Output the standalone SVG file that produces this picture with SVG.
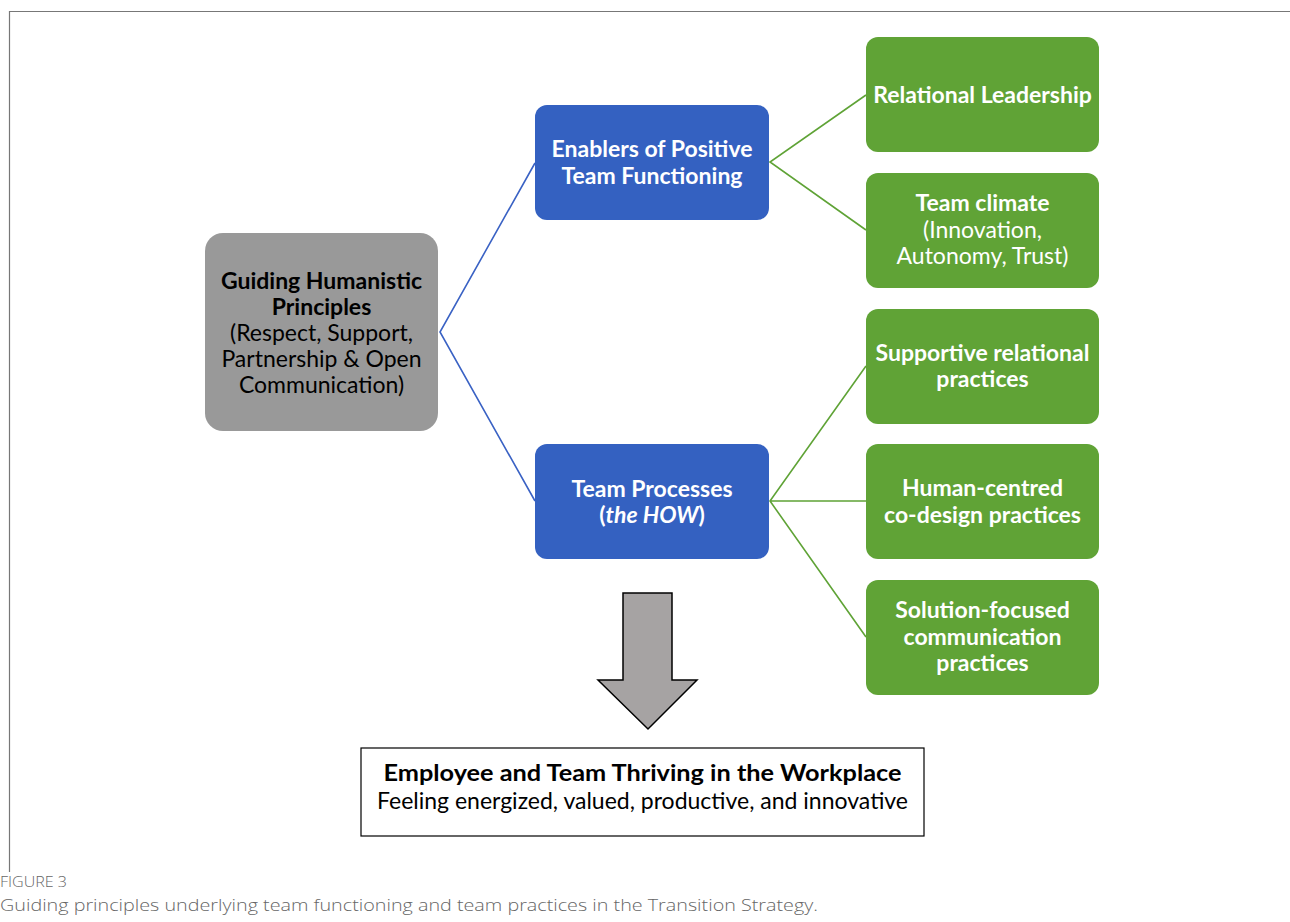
<svg xmlns="http://www.w3.org/2000/svg" width="1290" height="922" viewBox="0 0 1290 922">
<style>
.t{font-family:Lato,"Open Sans","Liberation Sans",sans-serif;font-size:23px;text-anchor:middle}
.b{font-weight:bold}
.w{fill:#ffffff}
.k{fill:#000000}
.blue{fill:#3461c1}
.green{fill:#60a336}
.cb{stroke:#3a62c4;stroke-width:1.6;fill:none}
.cg{stroke:#5fa336;stroke-width:1.6;fill:none}
.cap{font-family:"Open Sans","Liberation Sans",sans-serif;fill:#666666;font-weight:300}
</style>
<rect x="0" y="0" width="1290" height="922" fill="#ffffff"/>
<path d="M9.5 872 V11.5 H1290" fill="none" stroke="#777777" stroke-width="1.2"/>
<g id="connectors">
<path class="cb" d="M535 163 L440 332 L535 501"/>
<path class="cg" d="M866 95 L770 162 L866 230"/>
<path class="cg" d="M866 366 L770 501 L866 637 M770 501 H866"/>
</g>
<g id="guiding">
<rect x="205" y="233" width="233" height="198" rx="18" fill="#999999"/>
<text class="t k" x="321.5" y="289"><tspan class="b">Guiding Humanistic</tspan><tspan class="b" x="321.5" dy="26">Principles</tspan><tspan x="321.5" dy="26">(Respect, Support,</tspan><tspan x="321.5" dy="26">Partnership &amp; Open</tspan><tspan x="321.5" dy="26">Communication)</tspan></text>
</g>
<g id="enablers">
<rect class="blue" x="535" y="105" width="234" height="115" rx="12"/>
<text class="t b w" x="652" y="157">Enablers of Positive<tspan x="652" dy="27">Team Functioning</tspan></text>
</g>
<g id="processes">
<rect class="blue" x="535" y="444" width="234" height="115" rx="12"/>
<text class="t b w" x="652" y="497">Team Processes<tspan x="652" dy="26">(<tspan font-style="italic">the HOW</tspan>)</tspan></text>
</g>
<g id="relational-leadership">
<rect class="green" x="866" y="37" width="233" height="115" rx="12"/>
<text class="t b w" x="982.5" y="103">Relational Leadership</text>
</g>
<g id="team-climate">
<rect class="green" x="866" y="173" width="233" height="115" rx="12"/>
<text class="t w" x="982.5" y="211"><tspan class="b">Team climate</tspan><tspan x="982.5" dy="27">(Innovation,</tspan><tspan x="982.5" dy="26">Autonomy, Trust)</tspan></text>
</g>
<g id="supportive">
<rect class="green" x="866" y="309" width="233" height="115" rx="12"/>
<text class="t b w" x="982.5" y="361">Supportive relational<tspan x="982.5" dy="26">practices</tspan></text>
</g>
<g id="human-centred">
<rect class="green" x="866" y="444" width="233" height="115" rx="12"/>
<text class="t b w" x="982.5" y="496">Human-centred<tspan x="982.5" dy="27">co-design practices</tspan></text>
</g>
<g id="solution-focused">
<rect class="green" x="866" y="580" width="233" height="115" rx="12"/>
<text class="t b w" x="982.5" y="618">Solution-focused<tspan x="982.5" dy="27">communication</tspan><tspan x="982.5" dy="26">practices</tspan></text>
</g>
<g id="arrow">
<path d="M623 593 H672 V680 H697 L648 729 L598 680 H623 Z" fill="#a6a3a3" stroke="#000000" stroke-width="1.5" stroke-linejoin="miter"/>
</g>
<g id="outcome">
<rect x="361" y="748" width="563" height="88" fill="#ffffff" stroke="#000000" stroke-width="1.2"/>
<text class="t b k" x="642.5" y="781" font-size="24" textLength="518" lengthAdjust="spacingAndGlyphs">Employee and Team Thriving in the Workplace</text>
<text class="t k" x="642.5" y="809" font-size="18.5">Feeling energized, valued, productive, and innovative</text>
</g>
<text class="cap" x="0" y="887" font-size="14" textLength="67" lengthAdjust="spacingAndGlyphs">FIGURE 3</text>
<text class="cap" x="0" y="911" font-size="17" textLength="818" lengthAdjust="spacingAndGlyphs">Guiding principles underlying team functioning and team practices in the Transition Strategy.</text>
</svg>
